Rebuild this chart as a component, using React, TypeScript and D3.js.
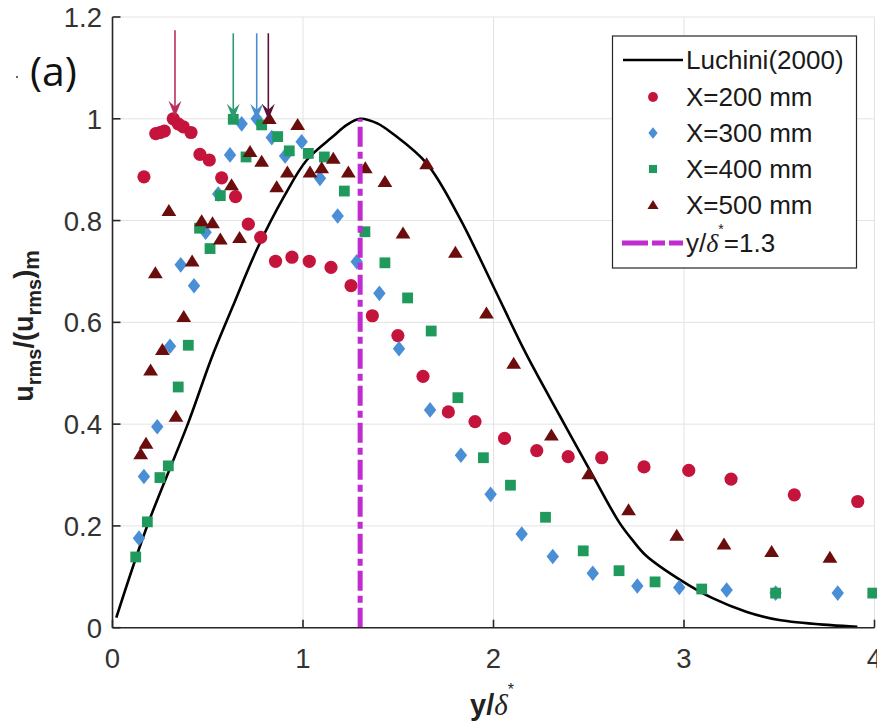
import React from 'react';
import * as d3 from 'd3';

const W = 877;
const H = 723;

const xTicks = [0, 1, 2, 3, 4];
const yTicks = [0, 0.2, 0.4, 0.6, 0.8, 1, 1.2];
const yTickLabels = ['0', '0.2', '0.4', '0.6', '0.8', '1', '1.2'];

const luchiniX = [0.02, 0.18, 0.40, 0.52, 0.63, 0.76, 0.90, 1.02, 1.16, 1.23, 1.30, 1.39, 1.47, 1.65, 1.82, 2.00, 2.17, 2.35, 2.52, 2.66, 2.73, 2.80, 2.98, 3.15, 3.33, 3.50, 3.77, 3.91];
const luchiniY = [0.02, 0.198, 0.405, 0.53, 0.63, 0.745, 0.847, 0.919, 0.966, 0.988, 1.0, 0.991, 0.971, 0.912, 0.807, 0.670, 0.539, 0.415, 0.300, 0.207, 0.172, 0.142, 0.094, 0.058, 0.031, 0.015, 0.005, 0.002];

const x200 = [0.165, 0.227, 0.25, 0.272, 0.319, 0.345, 0.372, 0.412, 0.459, 0.508, 0.573, 0.646, 0.713, 0.778, 0.856, 0.942, 1.033, 1.147, 1.252, 1.364, 1.498, 1.630, 1.763, 1.903, 2.058, 2.227, 2.392, 2.568, 2.790, 3.025, 3.247, 3.579, 3.912];
const y200 = [0.886, 0.971, 0.973, 0.976, 1.0, 0.99, 0.984, 0.973, 0.930, 0.919, 0.884, 0.847, 0.793, 0.767, 0.720, 0.728, 0.720, 0.708, 0.672, 0.613, 0.574, 0.494, 0.424, 0.405, 0.372, 0.348, 0.336, 0.334, 0.316, 0.309, 0.292, 0.261, 0.248];

const x300 = [0.139, 0.165, 0.235, 0.302, 0.358, 0.428, 0.489, 0.555, 0.617, 0.678, 0.757, 0.836, 0.906, 0.993, 1.089, 1.182, 1.282, 1.401, 1.504, 1.667, 1.829, 1.985, 2.148, 2.311, 2.521, 2.755, 2.975, 3.224, 3.481, 3.807];
const y300 = [0.176, 0.297, 0.395, 0.553, 0.713, 0.672, 0.777, 0.852, 0.929, 0.990, 1.0, 0.963, 0.927, 0.955, 0.883, 0.809, 0.719, 0.657, 0.548, 0.428, 0.339, 0.262, 0.184, 0.140, 0.107, 0.082, 0.079, 0.074, 0.068, 0.068];

const x400 = [0.122, 0.183, 0.249, 0.293, 0.345, 0.398, 0.457, 0.512, 0.566, 0.634, 0.701, 0.783, 0.867, 0.928, 1.028, 1.112, 1.217, 1.325, 1.430, 1.549, 1.673, 1.813, 1.947, 2.089, 2.273, 2.471, 2.659, 2.848, 3.093, 3.481, 3.991];
const y400 = [0.139, 0.208, 0.295, 0.318, 0.473, 0.555, 0.785, 0.745, 0.849, 0.999, 0.925, 0.988, 0.965, 0.937, 0.932, 0.925, 0.858, 0.778, 0.717, 0.648, 0.583, 0.452, 0.334, 0.280, 0.217, 0.151, 0.112, 0.090, 0.076, 0.068, 0.068];

const x500 = [0.148, 0.176, 0.200, 0.225, 0.262, 0.296, 0.333, 0.374, 0.418, 0.468, 0.525, 0.566, 0.625, 0.667, 0.722, 0.783, 0.823, 0.862, 0.918, 0.972, 1.037, 1.098, 1.159, 1.238, 1.327, 1.430, 1.525, 1.649, 1.800, 1.963, 2.106, 2.304, 2.500, 2.709, 2.962, 3.210, 3.460, 3.766];
const y500 = [0.341, 0.362, 0.506, 0.697, 0.546, 0.819, 0.415, 0.611, 0.720, 0.799, 0.795, 0.763, 0.870, 0.766, 0.935, 0.916, 1.0, 0.866, 0.895, 0.988, 0.895, 0.903, 0.922, 0.895, 0.903, 0.876, 0.775, 0.911, 0.737, 0.618, 0.519, 0.378, 0.302, 0.231, 0.181, 0.164, 0.149, 0.138];

const seriesNames = ['X=200 mm', 'X=300 mm', 'X=400 mm', 'X=500 mm'];
const seriesColors = ['#c5143c', '#4a8fd6', '#1f9a5c', '#6b0d0d'];
const seriesShapes = ['circle', 'diamond', 'square', 'triangle'];

const refLineX = 1.3;
const refLineLabel = '=1.3';
const curveLabel = 'Luchini(2000)';

const arrowX = [0.328, 0.634, 0.757, 0.818];
const arrowTop = [1.174, 1.168, 1.168, 1.168];
const arrowTip = [1.004, 0.998, 0.998, 0.998];
const arrowColors = ['#b82f5c', '#2e9b72', '#4a8ed2', '#5a1038'];

function markerPath(shape: string, s: number): string {
  if (shape === 'diamond') return `M0,${-7.8 * s}L${6.2 * s},0L0,${7.8 * s}L${-6.2 * s},0Z`;
  if (shape === 'square') return `M${-5.4 * s},${-5.4 * s}h${10.8 * s}v${10.8 * s}h${-10.8 * s}Z`;
  if (shape === 'triangle') return `M0,${-6.8 * s}L${7.4 * s},${5.2 * s}L${-7.4 * s},${5.2 * s}Z`;
  const r = 6.6 * s;
  return `M${r},0A${r},${r} 0 1,1 ${-r},0A${r},${r} 0 1,1 ${r},0Z`;
}

export default function App() {
  const x = d3.scaleLinear().domain([0, 4]).range([112.5, 874.5]);
  const y = d3.scaleLinear().domain([0, 1.2]).range([627.7, 17]);
  const font = '"Liberation Sans", Arial, sans-serif';
  const axisColor = '#262626';

  const line = d3
    .line<number>()
    .x((_, i) => x(luchiniX[i]))
    .y((d) => y(d))
    .curve(d3.curveCatmullRom.alpha(0.5));

  const series = [
    { xs: x200, ys: y200 },
    { xs: x300, ys: y300 },
    { xs: x400, ys: y400 },
    { xs: x500, ys: y500 },
  ];

  const legendRows = [60, 97, 133, 169, 205, 243];
  const lgX = 612.5;
  const dash = '20 5 7 5';

  return (
    <svg width={W} height={H} style={{ position: 'absolute', left: 0, top: 0, background: '#fff' }}>
      <rect width={W} height={H} fill="#fff" />
      {/* grid */}
      <g stroke="#e3e3e3" strokeWidth={1}>
        {xTicks.map((t) => (
          <line key={'gx' + t} x1={x(t)} x2={x(t)} y1={y(0)} y2={y(1.2)} />
        ))}
        {yTicks.map((t) => (
          <line key={'gy' + t} x1={x(0)} x2={x(4)} y1={y(t)} y2={y(t)} />
        ))}
      </g>

      {/* Luchini curve */}
      <path d={line(luchiniY) || ''} fill="none" stroke="#000" strokeWidth={2.6} />

      {/* markers */}
      {series.map((s, si) => (
        <g key={'s' + si} fill={seriesColors[si]}>
          {s.xs.map((xv, i) => (
            <path key={i} d={markerPath(seriesShapes[si], 1)} transform={`translate(${x(xv)},${y(s.ys[i])})`} />
          ))}
        </g>
      ))}

      {/* reference line */}
      <line
        x1={x(refLineX)}
        x2={x(refLineX)}
        y1={y(0)}
        y2={y(1.0)}
        stroke="#c02ccf"
        strokeWidth={5}
        strokeDasharray={dash}
      />

      {/* arrows */}
      {arrowX.map((ax, i) => {
        const px = x(ax);
        const tip = y(arrowTip[i]);
        return (
          <g key={'a' + i}>
            <line x1={px} x2={px} y1={y(arrowTop[i])} y2={tip - 6} stroke={arrowColors[i]} strokeWidth={1.6} />
            <path
              d={`M${px},${tip}L${px - 6.5},${tip - 16}L${px},${tip - 10}L${px + 6.5},${tip - 16}Z`}
              fill={arrowColors[i]}
            />
          </g>
        );
      })}

      {/* axes */}
      <g stroke={axisColor} strokeWidth={1.6}>
        <line x1={x(0)} x2={x(0)} y1={y(0)} y2={y(1.2)} />
        <line x1={x(0)} x2={x(4)} y1={y(0)} y2={y(0)} />
        {xTicks.map((t) => (
          <line key={'tx' + t} x1={x(t)} x2={x(t)} y1={y(0)} y2={y(0) - 8} />
        ))}
        {yTicks.map((t) => (
          <line key={'ty' + t} x1={x(0)} x2={x(0) + 8} y1={y(t)} y2={y(t)} />
        ))}
      </g>

      {/* tick labels */}
      <g fontFamily={font} fontSize={27.5} fill="#333">
        {xTicks.map((t) => (
          <text key={'lx' + t} x={x(t)} y={668} textAnchor="middle">
            {String(t)}
          </text>
        ))}
        {yTicks.map((t, i) => (
          <text key={'ly' + t} x={102} y={y(t) + 10} textAnchor="end">
            {yTickLabels[i]}
          </text>
        ))}
      </g>

      {/* x label */}
      <text x={470} y={715} fontFamily={font} fontSize={29} fill="#222">
        <tspan fontWeight="bold">y/</tspan>
        <tspan fontFamily='"Liberation Serif", "DejaVu Serif", serif' fontStyle="italic">δ</tspan>
        <tspan fontSize={16} dy={-20}>*</tspan>
      </text>

      {/* y label */}
      <text transform="translate(33,326) rotate(-90)" textAnchor="middle" fontFamily={font} fontWeight="bold" fontSize={27} fill="#222">
        <tspan>u</tspan>
        <tspan fontSize={20} dy={8}>rms</tspan>
        <tspan dy={-8}>/(u</tspan>
        <tspan fontSize={20} dy={8}>rms</tspan>
        <tspan dy={-8}>)</tspan>
        <tspan fontSize={22} dy={6}>m</tspan>
      </text>

      {/* (a) */}
      <text x={30} y={86} fontFamily='"Open Sans", "Noto Sans", sans-serif' fontSize={41} fill="#111">
        (a)
      </text>
      <circle cx={17} cy={77} r={1} fill="#333" />

      {/* legend */}
      <g>
        <rect x={lgX} y={36} width={244} height={232} fill="#fff" stroke={axisColor} strokeWidth={1.2} />
        <line x1={623} x2={683} y1={legendRows[0]} y2={legendRows[0]} stroke="#000" strokeWidth={2.6} />
        {seriesNames.map((n, i) => (
          <path key={'lm' + i} d={markerPath(seriesShapes[i], 0.75)} fill={seriesColors[i]} transform={`translate(653,${legendRows[i + 1]})`} />
        ))}
        <line x1={622} x2={683} y1={legendRows[5]} y2={legendRows[5]} stroke="#c02ccf" strokeWidth={5} strokeDasharray="26 4 13 4" />
        <g fontFamily={font} fontSize={26} fill="#1a1a1a">
          <text x={686} y={legendRows[0] + 9}>{curveLabel}</text>
          {seriesNames.map((n, i) => (
            <text key={'lt' + i} x={686} y={legendRows[i + 1] + 9}>
              {n}
            </text>
          ))}
          <text x={686} y={legendRows[5] + 9}>
            <tspan>y/</tspan>
            <tspan fontFamily='"Liberation Serif", "DejaVu Serif", serif' fontStyle="italic">δ</tspan>
            <tspan fontSize={14} dy={-18}>*</tspan>
            <tspan dy={18}>{refLineLabel}</tspan>
          </text>
        </g>
      </g>
    </svg>
  );
}
